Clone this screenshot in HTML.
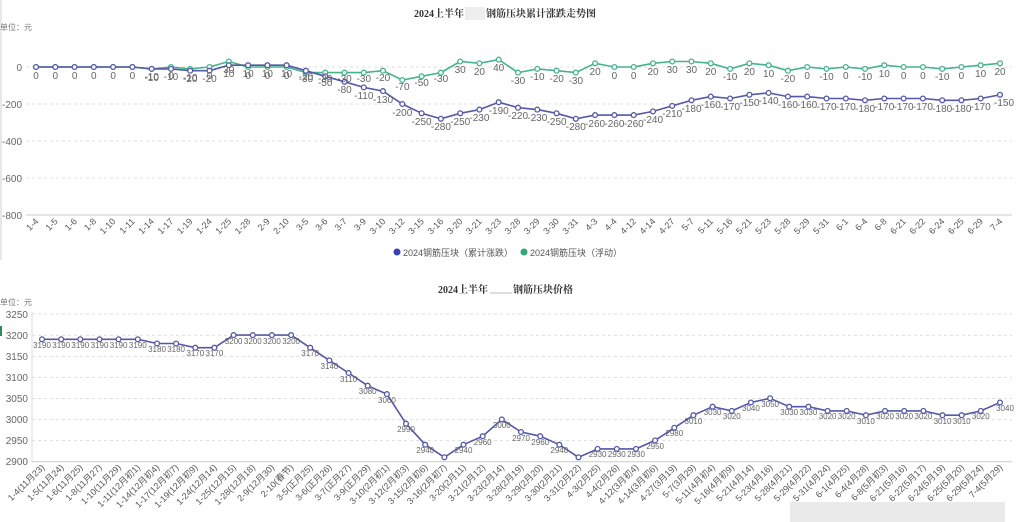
<!DOCTYPE html>
<html><head><meta charset="utf-8"><style>
html,body{margin:0;padding:0;background:#fff;}
svg{display:block;font-family:"Liberation Sans","Noto Sans CJK SC",sans-serif;}
.t text{font-size:10px;fill:#666;text-anchor:middle}
.b text{font-size:8px;fill:#666;text-anchor:middle}
.ya{font-size:10px;fill:#666;text-anchor:end}
.xa text{font-size:9px;fill:#555;text-anchor:end}
</style></head><body>
<svg width="1024" height="522" viewBox="0 0 1024 522">
<defs>
<marker id="mb" markerUnits="userSpaceOnUse" markerWidth="8" markerHeight="8" refX="4" refY="4"><circle cx="4" cy="4" r="2.4" fill="#fff" stroke="#5458a6" stroke-width="1.3"/></marker>
<marker id="mg" markerUnits="userSpaceOnUse" markerWidth="8" markerHeight="8" refX="4" refY="4"><circle cx="4" cy="4" r="2.4" fill="#fff" stroke="#45b48c" stroke-width="1.3"/></marker>
</defs>
<rect x="0" y="0" width="2" height="260" fill="#e8e8e8"/>
<rect x="0" y="326" width="2" height="10" fill="#2c8a5c"/>
<!-- TOP CHART -->
<text x="414" y="17" font-size="10" font-weight="bold" fill="#333" font-family="Liberation Serif,Noto Serif CJK SC,serif">2024上半年</text>
<rect x="465" y="7" width="20" height="13" fill="#eee"/>
<text x="486" y="17" font-size="10" font-weight="bold" fill="#333" font-family="Liberation Serif,Noto Serif CJK SC,serif">钢筋压块累计涨跌走势图</text>
<text x="0" y="30" font-size="8" fill="#777">单位：元</text>
<g stroke="#e0e0e0" stroke-dasharray="3,3"><line x1="26" y1="67" x2="1012" y2="67"/><line x1="26" y1="104" x2="1012" y2="104"/><line x1="26" y1="141" x2="1012" y2="141"/><line x1="26" y1="178" x2="1012" y2="178"/></g>
<line x1="26" y1="215" x2="1012" y2="215" stroke="#ccc"/>
<g class="ya"><text x="22" y="71">0</text><text x="22" y="108">-200</text><text x="22" y="145">-400</text><text x="22" y="182">-600</text><text x="22" y="219">-800</text></g>
<polyline fill="none" stroke="#45b48c" stroke-width="1.6" marker-start="url(#mg)" marker-mid="url(#mg)" marker-end="url(#mg)" points="36,67 55.3,67 74.6,67 93.8,67 113.1,67 132.4,67 151.7,68.9 171,67 190.2,68.9 209.5,67 228.8,61.5 248.1,67 267.4,67 286.6,67 305.9,72.6 325.2,72.6 344.5,72.6 363.8,72.6 383,70.7 402.3,80 421.6,76.3 440.9,72.6 460.2,61.5 479.4,63.3 498.7,59.6 518,72.6 537.3,68.9 556.6,70.7 575.8,72.6 595.1,63.3 614.4,67 633.7,67 653,63.3 672.2,61.5 691.5,61.5 710.8,63.3 730.1,68.9 749.4,63.3 768.6,65.2 787.9,70.7 807.2,67 826.5,68.9 845.8,67 865,68.9 884.3,65.2 903.6,67 922.9,67 942.2,68.9 961.4,67 980.7,65.2 1000,63.3"/>
<polyline fill="none" stroke="#5458a6" stroke-width="1.6" marker-start="url(#mb)" marker-mid="url(#mb)" marker-end="url(#mb)" points="36,67 55.3,67 74.6,67 93.8,67 113.1,67 132.4,67 151.7,68.9 171,68.9 190.2,70.7 209.5,70.7 228.8,65.2 248.1,65.2 267.4,65.2 286.6,65.2 305.9,70.7 325.2,76.3 344.5,81.8 363.8,87.4 383,91.1 402.3,104 421.6,113.3 440.9,118.8 460.2,113.3 479.4,109.6 498.7,102.2 518,107.7 537.3,109.6 556.6,113.3 575.8,118.8 595.1,115.1 614.4,115.1 633.7,115.1 653,111.4 672.2,105.9 691.5,100.3 710.8,96.6 730.1,98.5 749.4,94.8 768.6,92.9 787.9,96.6 807.2,96.6 826.5,98.5 845.8,98.5 865,100.3 884.3,98.5 903.6,98.5 922.9,98.5 942.2,100.3 961.4,100.3 980.7,98.5 1000,94.8"/>
<g class="t">
<text x="36" y="79">0</text><text x="55.3" y="79">0</text><text x="74.6" y="79">0</text><text x="93.8" y="79">0</text><text x="113.1" y="79">0</text><text x="132.4" y="79">0</text><text x="151.7" y="81">-10</text><text x="171" y="79">0</text><text x="190.2" y="81">-10</text><text x="209.5" y="79">0</text><text x="228.8" y="73">30</text><text x="248.1" y="79">0</text><text x="267.4" y="79">0</text><text x="286.6" y="79">0</text><text x="305.9" y="82">-30</text><text x="325.2" y="82">-30</text><text x="344.5" y="82">-30</text><text x="363.8" y="82">-30</text><text x="383" y="81">-20</text><text x="402.3" y="90">-70</text><text x="421.6" y="86">-50</text><text x="440.9" y="82">-30</text><text x="460.2" y="73">30</text><text x="479.4" y="75">20</text><text x="498.7" y="71">40</text><text x="518" y="84">-30</text><text x="537.3" y="80">-10</text><text x="556.6" y="82">-20</text><text x="575.8" y="84">-30</text><text x="595.1" y="75">20</text><text x="614.4" y="79">0</text><text x="633.7" y="79">0</text><text x="653" y="75">20</text><text x="672.2" y="73">30</text><text x="691.5" y="73">30</text><text x="710.8" y="75">20</text><text x="730.1" y="80">-10</text><text x="749.4" y="75">20</text><text x="768.6" y="77">10</text><text x="787.9" y="82">-20</text><text x="807.2" y="79">0</text><text x="826.5" y="80">-10</text><text x="845.8" y="79">0</text><text x="865" y="80">-10</text><text x="884.3" y="77">10</text><text x="903.6" y="79">0</text><text x="922.9" y="79">0</text><text x="942.2" y="80">-10</text><text x="961.4" y="79">0</text><text x="980.7" y="77">10</text><text x="1000" y="75">20</text>
<text x="151.7" y="80">-10</text><text x="171" y="80">-10</text><text x="190.2" y="82">-20</text><text x="209.5" y="82">-20</text><text x="228.8" y="77">10</text><text x="248.1" y="77">10</text><text x="267.4" y="77">10</text><text x="286.6" y="77">10</text><text x="305.9" y="80">-20</text><text x="325.2" y="86">-50</text><text x="344.5" y="93">-80</text><text x="363.8" y="99">-110</text><text x="383" y="103">-130</text><text x="402.3" y="116">-200</text><text x="421.6" y="125">-250</text><text x="440.9" y="130">-280</text><text x="460.2" y="125">-250</text><text x="479.4" y="121">-230</text><text x="498.7" y="114">-190</text><text x="518" y="119">-220</text><text x="537.3" y="121">-230</text><text x="556.6" y="125">-250</text><text x="575.8" y="130">-280</text><text x="595.1" y="127">-260</text><text x="614.4" y="127">-260</text><text x="633.7" y="127">-260</text><text x="653" y="123">-240</text><text x="672.2" y="117">-210</text><text x="691.5" y="112">-180</text><text x="710.8" y="108">-160</text><text x="730.1" y="110">-170</text><text x="749.4" y="106">-150</text><text x="768.6" y="104">-140</text><text x="787.9" y="108">-160</text><text x="807.2" y="108">-160</text><text x="826.5" y="110">-170</text><text x="845.8" y="110">-170</text><text x="865" y="112">-180</text><text x="884.3" y="110">-170</text><text x="903.6" y="110">-170</text><text x="922.9" y="110">-170</text><text x="942.2" y="112">-180</text><text x="961.4" y="112">-180</text><text x="980.7" y="110">-170</text><text x="1004" y="106">-150</text>
</g>
<g class="xa">
<text transform="translate(39,222) rotate(-45)">1-4</text><text transform="translate(58.3,222) rotate(-45)">1-5</text><text transform="translate(77.6,222) rotate(-45)">1-6</text><text transform="translate(96.8,222) rotate(-45)">1-8</text><text transform="translate(116.1,222) rotate(-45)">1-10</text><text transform="translate(135.4,222) rotate(-45)">1-11</text><text transform="translate(154.7,222) rotate(-45)">1-14</text><text transform="translate(174,222) rotate(-45)">1-17</text><text transform="translate(193.2,222) rotate(-45)">1-19</text><text transform="translate(212.5,222) rotate(-45)">1-24</text><text transform="translate(231.8,222) rotate(-45)">1-25</text><text transform="translate(251.1,222) rotate(-45)">1-28</text><text transform="translate(270.4,222) rotate(-45)">2-9</text><text transform="translate(289.6,222) rotate(-45)">2-10</text><text transform="translate(308.9,222) rotate(-45)">3-5</text><text transform="translate(328.2,222) rotate(-45)">3-6</text><text transform="translate(347.5,222) rotate(-45)">3-7</text><text transform="translate(366.8,222) rotate(-45)">3-9</text><text transform="translate(386,222) rotate(-45)">3-10</text><text transform="translate(405.3,222) rotate(-45)">3-12</text><text transform="translate(424.6,222) rotate(-45)">3-15</text><text transform="translate(443.9,222) rotate(-45)">3-16</text><text transform="translate(463.2,222) rotate(-45)">3-20</text><text transform="translate(482.4,222) rotate(-45)">3-21</text><text transform="translate(501.7,222) rotate(-45)">3-23</text><text transform="translate(521,222) rotate(-45)">3-28</text><text transform="translate(540.3,222) rotate(-45)">3-29</text><text transform="translate(559.6,222) rotate(-45)">3-30</text><text transform="translate(578.8,222) rotate(-45)">3-31</text><text transform="translate(598.1,222) rotate(-45)">4-3</text><text transform="translate(617.4,222) rotate(-45)">4-4</text><text transform="translate(636.7,222) rotate(-45)">4-12</text><text transform="translate(656,222) rotate(-45)">4-14</text><text transform="translate(675.2,222) rotate(-45)">4-27</text><text transform="translate(694.5,222) rotate(-45)">5-7</text><text transform="translate(713.8,222) rotate(-45)">5-11</text><text transform="translate(733.1,222) rotate(-45)">5-16</text><text transform="translate(752.4,222) rotate(-45)">5-21</text><text transform="translate(771.6,222) rotate(-45)">5-23</text><text transform="translate(790.9,222) rotate(-45)">5-28</text><text transform="translate(810.2,222) rotate(-45)">5-29</text><text transform="translate(829.5,222) rotate(-45)">5-31</text><text transform="translate(848.8,222) rotate(-45)">6-1</text><text transform="translate(868,222) rotate(-45)">6-4</text><text transform="translate(887.3,222) rotate(-45)">6-8</text><text transform="translate(906.6,222) rotate(-45)">6-21</text><text transform="translate(925.9,222) rotate(-45)">6-22</text><text transform="translate(945.2,222) rotate(-45)">6-24</text><text transform="translate(964.4,222) rotate(-45)">6-25</text><text transform="translate(983.7,222) rotate(-45)">6-29</text><text transform="translate(1003,222) rotate(-45)">7-4</text>
</g>
<circle cx="397" cy="252" r="3.5" fill="#3b40b0"/>
<text x="403" y="256" font-size="9" fill="#555">2024钢筋压块（累计涨跌）</text>
<circle cx="524" cy="252" r="3.5" fill="#2fa876"/>
<text x="530" y="256" font-size="9" fill="#555">2024钢筋压块（浮动）</text>
<!-- BOTTOM CHART -->
<text x="438" y="293" font-size="10" font-weight="bold" fill="#333" font-family="Liberation Serif,Noto Serif CJK SC,serif">2024上半年</text>
<line x1="490" y1="293" x2="512" y2="293" stroke="#bbb"/>
<text x="513" y="293" font-size="10" font-weight="bold" fill="#333" font-family="Liberation Serif,Noto Serif CJK SC,serif">钢筋压块价格</text>
<text x="0" y="305" font-size="8" fill="#777">单位：元</text>
<g stroke="#ddd" stroke-dasharray="3,3"><line x1="32" y1="314" x2="1012" y2="314"/><line x1="32" y1="335.3" x2="1012" y2="335.3"/><line x1="32" y1="356.4" x2="1012" y2="356.4"/><line x1="32" y1="377.4" x2="1012" y2="377.4"/><line x1="32" y1="398.5" x2="1012" y2="398.5"/><line x1="32" y1="419.6" x2="1012" y2="419.6"/><line x1="32" y1="440.6" x2="1012" y2="440.6"/></g>
<line x1="32" y1="461.7" x2="1012" y2="461.7" stroke="#ccc"/>
<line x1="32" y1="312" x2="32" y2="462" stroke="#ddd"/>
<g class="ya" style="font-size:10px"><text x="28" y="318">3250</text><text x="28" y="339">3200</text><text x="28" y="360">3150</text><text x="28" y="381">3100</text><text x="28" y="402">3050</text><text x="28" y="423">3000</text><text x="28" y="444">2950</text><text x="28" y="465">2900</text></g>
<polyline fill="none" stroke="#5458a6" stroke-width="1.6" marker-start="url(#mb)" marker-mid="url(#mb)" marker-end="url(#mb)" points="42,339.3 61.2,339.3 80.3,339.3 99.5,339.3 118.6,339.3 137.8,339.3 157,343.5 176.1,343.5 195.3,347.7 214.4,347.7 233.6,335.1 252.8,335.1 271.9,335.1 291.1,335.1 310.2,347.7 329.4,360.4 348.6,373 367.7,385.7 386.9,394.1 406,423.6 425.2,444.7 444.4,457.3 463.5,444.7 482.7,436.2 501.8,419.4 521,432 540.2,436.2 559.3,444.7 578.5,457.3 597.6,448.9 616.8,448.9 636,448.9 655.1,440.4 674.3,427.8 693.4,415.2 712.6,406.7 731.8,410.9 750.9,402.5 770.1,398.3 789.2,406.7 808.4,406.7 827.6,410.9 846.7,410.9 865.9,415.2 885,410.9 904.2,410.9 923.4,410.9 942.5,415.2 961.7,415.2 980.8,410.9 1000,402.5"/>
<g class="b">
<text x="42" y="348">3190</text><text x="61.2" y="348">3190</text><text x="80.3" y="348">3190</text><text x="99.5" y="348">3190</text><text x="118.6" y="348">3190</text><text x="137.8" y="348">3190</text><text x="157" y="352">3180</text><text x="176.1" y="352">3180</text><text x="195.3" y="356">3170</text><text x="214.4" y="356">3170</text><text x="233.6" y="344">3200</text><text x="252.8" y="344">3200</text><text x="271.9" y="344">3200</text><text x="291.1" y="344">3200</text><text x="310.2" y="356">3170</text><text x="329.4" y="369">3140</text><text x="348.6" y="382">3110</text><text x="367.7" y="394">3080</text><text x="386.9" y="403">3060</text><text x="406" y="432">2990</text><text x="425.2" y="453">2940</text><text x="463.5" y="453">2940</text><text x="482.7" y="445">2960</text><text x="501.8" y="428">3000</text><text x="521" y="441">2970</text><text x="540.2" y="445">2960</text><text x="559.3" y="453">2940</text><text x="597.6" y="457">2930</text><text x="616.8" y="457">2930</text><text x="636" y="457">2930</text><text x="655.1" y="449">2950</text><text x="674.3" y="436">2980</text><text x="693.4" y="424">3010</text><text x="712.6" y="415">3030</text><text x="731.8" y="419">3020</text><text x="750.9" y="411">3040</text><text x="770.1" y="407">3050</text><text x="789.2" y="415">3030</text><text x="808.4" y="415">3030</text><text x="827.6" y="419">3020</text><text x="846.7" y="419">3020</text><text x="865.9" y="424">3010</text><text x="885" y="419">3020</text><text x="904.2" y="419">3020</text><text x="923.4" y="419">3020</text><text x="942.5" y="424">3010</text><text x="961.7" y="424">3010</text><text x="980.8" y="419">3020</text><text x="1005" y="411">3040</text>
</g>
<g class="xa">
<text transform="translate(45,468) rotate(-45)">1-4(11月23)</text><text transform="translate(64.2,468) rotate(-45)">1-5(11月24)</text><text transform="translate(83.3,468) rotate(-45)">1-6(11月25)</text><text transform="translate(102.5,468) rotate(-45)">1-8(11月27)</text><text transform="translate(121.6,468) rotate(-45)">1-10(11月29)</text><text transform="translate(140.8,468) rotate(-45)">1-11(12月初1)</text><text transform="translate(160,468) rotate(-45)">1-14(12月初4)</text><text transform="translate(179.1,468) rotate(-45)">1-17(12月初7)</text><text transform="translate(198.3,468) rotate(-45)">1-19(12月初9)</text><text transform="translate(217.4,468) rotate(-45)">1-24(12月14)</text><text transform="translate(236.6,468) rotate(-45)">1-25(12月15)</text><text transform="translate(255.8,468) rotate(-45)">1-28(12月18)</text><text transform="translate(274.9,468) rotate(-45)">2-9(12月30)</text><text transform="translate(294.1,468) rotate(-45)">2-10(春节)</text><text transform="translate(313.2,468) rotate(-45)">3-5(正月25)</text><text transform="translate(332.4,468) rotate(-45)">3-6(正月26)</text><text transform="translate(351.6,468) rotate(-45)">3-7(正月27)</text><text transform="translate(370.7,468) rotate(-45)">3-9(正月29)</text><text transform="translate(389.9,468) rotate(-45)">3-10(2月初1)</text><text transform="translate(409,468) rotate(-45)">3-12(2月初3)</text><text transform="translate(428.2,468) rotate(-45)">3-15(2月初6)</text><text transform="translate(447.4,468) rotate(-45)">3-16(2月初7)</text><text transform="translate(466.5,468) rotate(-45)">3-20(2月11)</text><text transform="translate(485.7,468) rotate(-45)">3-21(2月12)</text><text transform="translate(504.8,468) rotate(-45)">3-23(2月14)</text><text transform="translate(524,468) rotate(-45)">3-28(2月19)</text><text transform="translate(543.2,468) rotate(-45)">3-29(2月20)</text><text transform="translate(562.3,468) rotate(-45)">3-30(2月21)</text><text transform="translate(581.5,468) rotate(-45)">3-31(2月22)</text><text transform="translate(600.6,468) rotate(-45)">4-3(2月25)</text><text transform="translate(619.8,468) rotate(-45)">4-4(2月26)</text><text transform="translate(639,468) rotate(-45)">4-12(3月初4)</text><text transform="translate(658.1,468) rotate(-45)">4-14(3月初6)</text><text transform="translate(677.3,468) rotate(-45)">4-27(3月19)</text><text transform="translate(696.4,468) rotate(-45)">5-7(3月29)</text><text transform="translate(715.6,468) rotate(-45)">5-11(4月初4)</text><text transform="translate(734.8,468) rotate(-45)">5-16(4月初9)</text><text transform="translate(753.9,468) rotate(-45)">5-21(4月14)</text><text transform="translate(773.1,468) rotate(-45)">5-23(4月16)</text><text transform="translate(792.2,468) rotate(-45)">5-28(4月21)</text><text transform="translate(811.4,468) rotate(-45)">5-29(4月22)</text><text transform="translate(830.6,468) rotate(-45)">5-31(4月24)</text><text transform="translate(849.7,468) rotate(-45)">6-1(4月25)</text><text transform="translate(868.9,468) rotate(-45)">6-4(4月28)</text><text transform="translate(888,468) rotate(-45)">6-8(5月初3)</text><text transform="translate(907.2,468) rotate(-45)">6-21(5月16)</text><text transform="translate(926.4,468) rotate(-45)">6-22(5月17)</text><text transform="translate(945.5,468) rotate(-45)">6-24(5月19)</text><text transform="translate(964.7,468) rotate(-45)">6-25(5月20)</text><text transform="translate(983.8,468) rotate(-45)">6-29(5月24)</text><text transform="translate(1003,468) rotate(-45)">7-4(5月29)</text>
</g>
<rect x="790" y="502" width="215" height="20" fill="#e6e6e6" opacity="0.85"/>
</svg>
</body></html>
